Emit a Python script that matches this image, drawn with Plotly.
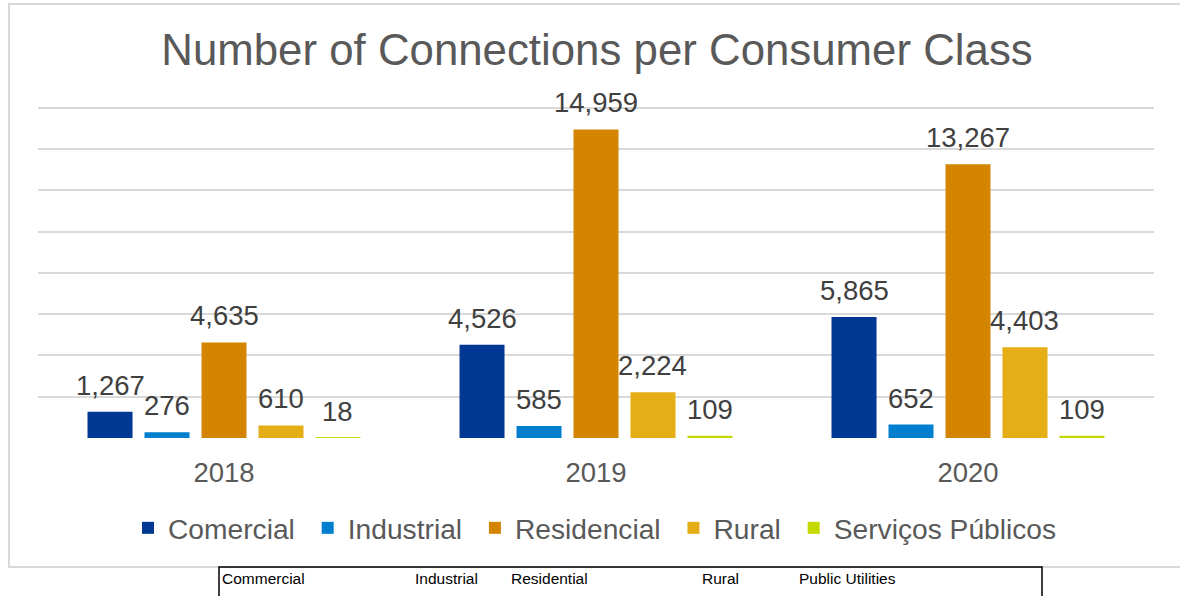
import plotly.graph_objects as go

# Connections per consumer class, by year
years = ["2018", "2019", "2020"]
comercial = [1267, 4526, 5865]
industrial = [276, 585, 652]
residencial = [4635, 14959, 13267]
rural = [610, 2224, 4403]
servicos_publicos = [18, 109, 109]

series_names = ["Comercial", "Industrial", "Residencial", "Rural", "Serviços Públicos"]
series_values = [comercial, industrial, residencial, rural, servicos_publicos]

# English captions printed in the strip under the chart
footer_labels = ["Commercial", "Industrial", "Residential", "Rural", "Public Utilities"]

# ---- styling / layout constants ----
W, H = 1180, 596
PLOT_L, PLOT_R, PLOT_T, PLOT_B = 38, 1154, 108, 438
Y_MAX, Y_TOP = 16000, 16050          # axis top a hair above the last gridline
COLORS = ["#003893", "#007FCE", "#D48500", "#E5AD16", "#C5D800"]
FONT = "Arial, Liberation Sans, sans-serif"
FOOTER_X = [220, 413, 509, 700, 797]
BARGAP, BARGROUPGAP = 0.234, 0.21
LABEL_SIZE = 27.5
LEGEND_SIZE = 28.2
NBSP = "\u00a0"


def fx(px):
    return px / W


def fy(py):
    return 1 - py / H


# pixel top of the y-domain so that Y_MAX lands on PLOT_T
plot_h = PLOT_B - PLOT_T
dom_top_px = PLOT_B - plot_h * Y_TOP / Y_MAX

fig = go.Figure()
for i, (name, vals, col) in enumerate(zip(series_names, series_values, COLORS)):
    legend_name = name + (NBSP if i < len(series_names) - 1 else "")
    fig.add_trace(go.Bar(
        x=years,
        y=vals,
        name=legend_name,
        marker=dict(color=col, line=dict(width=0)),
    ))

# value labels above each bar (category axis: x given as category index)
cat_w = (PLOT_R - PLOT_L) / len(years)
slot_w = cat_w * (1 - BARGAP) / len(series_names)
annotations = []
for i, vals in enumerate(series_values):
    for j, v in enumerate(vals):
        annotations.append(dict(
            text=f"{v:,}", x=j, y=v, xref="x", yref="y",
            xanchor="center", yanchor="bottom", showarrow=False,
            xshift=(i - (len(series_names) - 1) / 2) * slot_w, yshift=9,
            font=dict(family=FONT, size=LABEL_SIZE, color="#404040"),
        ))

annotations += [
    dict(text=lbl, x=fx(x), y=fy(578), xref="paper", yref="paper",
         xanchor="left", yanchor="middle", showarrow=False,
         font=dict(family=FONT, size=15.5, color="#000000"))
    for lbl, x in zip(footer_labels, FOOTER_X)
]

shapes = [
    # light chart frame
    dict(type="rect", xref="paper", yref="paper",
         x0=fx(9), x1=fx(1300), y0=fy(567), y1=fy(4),
         line=dict(color="#d9d9d9", width=2), layer="below"),
    # caption box
    dict(type="rect", xref="paper", yref="paper",
         x0=fx(219), x1=fx(1042), y0=fy(620), y1=fy(567),
         line=dict(color="#000000", width=1.5)),
]

fig.update_layout(
    width=W, height=H,
    margin=dict(l=0, r=0, t=0, b=0, autoexpand=False),
    paper_bgcolor="white", plot_bgcolor="white",
    barmode="group", bargap=BARGAP, bargroupgap=BARGROUPGAP,
    title=dict(text="Number of Connections per Consumer Class",
               x=fx(597), y=fy(50), xanchor="center", yanchor="middle",
               font=dict(family=FONT, size=43.8, color="#595959")),
    xaxis=dict(type="category", domain=[fx(PLOT_L), fx(PLOT_R)],
               range=[-0.5, len(years) - 0.5],
               showgrid=False, zeroline=False,
               showline=False, ticks="", ticklabelstandoff=15,
               tickfont=dict(family=FONT, size=LABEL_SIZE, color="#595959")),
    yaxis=dict(domain=[fy(PLOT_B), fy(dom_top_px)], range=[0, Y_TOP], dtick=2000,
               showgrid=True, gridcolor="#d9d9d9", gridwidth=1.5,
               zeroline=False, showticklabels=False, ticks=""),
    legend=dict(orientation="h", x=fx(595), xanchor="center",
                y=fy(528), yanchor="middle", bgcolor="rgba(0,0,0,0)",
                font=dict(family=FONT, size=LEGEND_SIZE, color="#595959")),
    shapes=shapes,
    annotations=annotations,
    showlegend=True,
)

fig.write_html("out.html")
